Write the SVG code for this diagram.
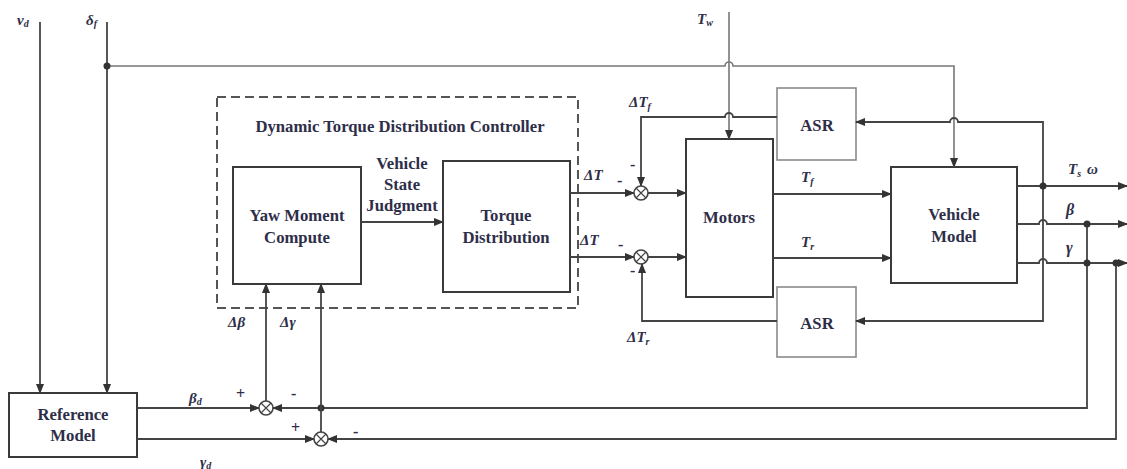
<svg xmlns="http://www.w3.org/2000/svg" width="1127" height="469" viewBox="0 0 1127 469">
<style>
.box{fill:#fff;stroke:#3a3a3a;stroke-width:2}
.lbox{fill:#fff;stroke:#8a8a8a;stroke-width:1.6}
.dash{fill:none;stroke:#555;stroke-width:2;stroke-dasharray:9 5}
.ln{fill:none;stroke:#444;stroke-width:1.8}
.lg{fill:none;stroke:#777;stroke-width:1.6}
.t{font-family:'Liberation Serif','Times New Roman',serif;font-size:16.7px;font-weight:bold;fill:#2e2e48;text-anchor:middle}
.m{font-family:'Liberation Serif','Times New Roman',serif;font-size:15px;font-weight:bold;font-style:italic;fill:#2e2e48}
.s{font-family:'Liberation Serif','Times New Roman',serif;font-size:16px;font-weight:bold;fill:#2e2e48}
.sum{fill:#fff;stroke:#444;stroke-width:1.6}
.dot{fill:#333}
</style>
<defs>
<marker id="ah" markerWidth="10" markerHeight="8" refX="9" refY="4" orient="auto" markerUnits="userSpaceOnUse">
<path d="M0,0 L10,4 L0,8 Z" fill="#333"/>
</marker>
</defs>

<g id="controller">
<rect class="dash" x="217" y="97" width="361" height="211"/>
<text class="t" x="400" y="132">Dynamic Torque Distribution Controller</text>
</g>
<g id="yaw">
<rect class="box" x="233" y="167" width="128" height="117"/>
<text class="t" x="297" y="221">Yaw Moment</text>
<text class="t" x="297" y="243">Compute</text>
</g>
<g id="torque">
<rect class="box" x="443" y="161" width="127" height="131"/>
<text class="t" x="506" y="221">Torque</text>
<text class="t" x="506" y="243">Distribution</text>
</g>
<g id="motors">
<rect class="box" x="686" y="139" width="87" height="158"/>
<text class="t" x="729" y="223">Motors</text>
</g>
<g id="asr-top">
<rect class="lbox" x="777" y="88" width="79" height="72"/>
<text class="t" x="817" y="131">ASR</text>
</g>
<g id="asr-bottom">
<rect class="lbox" x="777" y="287" width="79" height="70"/>
<text class="t" x="817" y="329">ASR</text>
</g>
<g id="vehicle">
<rect class="box" x="891" y="167" width="126" height="116"/>
<text class="t" x="954" y="220">Vehicle</text>
<text class="t" x="954" y="242">Model</text>
</g>
<g id="reference">
<rect class="box" x="9" y="393" width="128" height="64"/>
<text class="t" x="73" y="420">Reference</text>
<text class="t" x="73" y="441">Model</text>
</g>

<g id="connectors">
<path class="ln" d="M40 22 V393" marker-end="url(#ah)"/>
<path class="ln" d="M107 22 V393" marker-end="url(#ah)"/>
<path class="lg" d="M107 66 H725 a4 4 0 0 1 8 0 H954 V167" marker-end="url(#ah)"/>
<circle class="dot" cx="107" cy="66" r="3.5"/>
<path class="lg" d="M729 12 V139" marker-end="url(#ah)"/>
<path class="ln" d="M777 117 H733 a4 4 0 0 0 -8 0 H641 V186" marker-end="url(#ah)"/>
<path class="ln" d="M777 321 H642 V264" marker-end="url(#ah)"/>
<path class="ln" d="M361 222 H443" marker-end="url(#ah)"/>
<path class="ln" d="M570 193 H634" marker-end="url(#ah)"/>
<path class="ln" d="M648 193 H686" marker-end="url(#ah)"/>
<path class="ln" d="M570 257 H634" marker-end="url(#ah)"/>
<path class="ln" d="M648 257 H686" marker-end="url(#ah)"/>
<path class="ln" d="M773 194 H891" marker-end="url(#ah)"/>
<path class="ln" d="M773 258 H891" marker-end="url(#ah)"/>
<path class="ln" d="M1017 186 H1127" marker-end="url(#ah)"/>
<path class="ln" d="M1017 224 H1039 a4 4 0 0 1 8 0 H1127" marker-end="url(#ah)"/>
<path class="ln" d="M1017 263 H1039 a4 4 0 0 1 8 0 H1127" marker-end="url(#ah)"/>
<path class="ln" d="M1043 186 V321 H856" marker-end="url(#ah)"/>
<path class="ln" d="M1043 186 V122 H958 a4 4 0 0 0 -8 0 H856" marker-end="url(#ah)"/>
<circle class="dot" cx="1043" cy="186" r="3.5"/>
<path class="ln" d="M1087 224 V408 H273" marker-end="url(#ah)"/>
<circle class="dot" cx="1087" cy="224" r="3.5"/>
<circle class="dot" cx="1087" cy="263" r="3.5"/>
<path class="ln" d="M1116 263 V439 H328" marker-end="url(#ah)"/>
<circle class="dot" cx="1116" cy="263" r="3.5"/>
<circle class="dot" cx="321" cy="408" r="3.5"/>
<path class="ln" d="M137 408 H259" marker-end="url(#ah)"/>
<path class="ln" d="M137 439 H314" marker-end="url(#ah)"/>
<path class="ln" d="M266 401 V284" marker-end="url(#ah)"/>
<path class="ln" d="M321 432 V284" marker-end="url(#ah)"/>
</g>

<g id="sum-top">
<circle class="sum" cx="641" cy="193" r="7"/>
<path class="ln" d="M636 188 L646 198 M646 188 L636 198" style="stroke-width:1.2"/>
</g>
<g id="sum-bottom">
<circle class="sum" cx="641" cy="257" r="7"/>
<path class="ln" d="M636 252 L646 262 M646 252 L636 262" style="stroke-width:1.2"/>
</g>
<g id="sum-beta">
<circle class="sum" cx="266" cy="408" r="7"/>
<path class="ln" d="M261 403 L271 413 M271 403 L261 413" style="stroke-width:1.2"/>
</g>
<g id="sum-gamma">
<circle class="sum" cx="321" cy="439" r="7"/>
<path class="ln" d="M316 434 L326 444 M326 434 L316 444" style="stroke-width:1.2"/>
</g>

<g id="labels">
<text class="m" x="17" y="25">v<tspan font-size="10" dy="2">d</tspan></text>
<text class="m" x="86" y="25">δ<tspan font-size="10" dy="2">f</tspan></text>
<text class="m" x="697" y="24">T<tspan font-size="10" dy="2">w</tspan></text>
<text class="m" x="629" y="107">ΔT<tspan font-size="10" dy="3">f</tspan></text>
<text class="m" x="627" y="342">ΔT<tspan font-size="10" dy="3">r</tspan></text>
<text class="m" x="584" y="180">ΔT</text>
<text class="m" x="580" y="245">ΔT</text>
<text class="m" x="801" y="182">T<tspan font-size="10" dy="3">f</tspan></text>
<text class="m" x="801" y="247">T<tspan font-size="10" dy="3">r</tspan></text>
<text class="m" x="1068" y="174">T<tspan font-size="10" dy="3">s</tspan><tspan dy="-3" dx="6">ω</tspan></text>
<text class="m" x="1066" y="215" style="font-size:16px">β</text>
<text class="m" x="1066" y="253" style="font-size:16px">γ</text>
<text class="m" x="189" y="403">β<tspan font-size="10" dy="2">d</tspan></text>
<text class="m" x="200" y="467">γ<tspan font-size="10" dy="2">d</tspan></text>
<text class="m" x="228" y="327">Δβ</text>
<text class="m" x="280" y="327">Δγ</text>
<text class="t" x="402" y="169">Vehicle</text>
<text class="t" x="402" y="190">State</text>
<text class="t" x="402" y="211">Judgment</text>
<text class="s" x="630" y="170">-</text>
<text class="s" x="617" y="186">-</text>
<text class="s" x="618" y="250">-</text>
<text class="s" x="630" y="276">-</text>
<text class="s" x="236" y="399">+</text>
<text class="s" x="291" y="399">-</text>
<text class="s" x="291" y="433">+</text>
<text class="s" x="353" y="437">-</text>
</g>
</svg>
